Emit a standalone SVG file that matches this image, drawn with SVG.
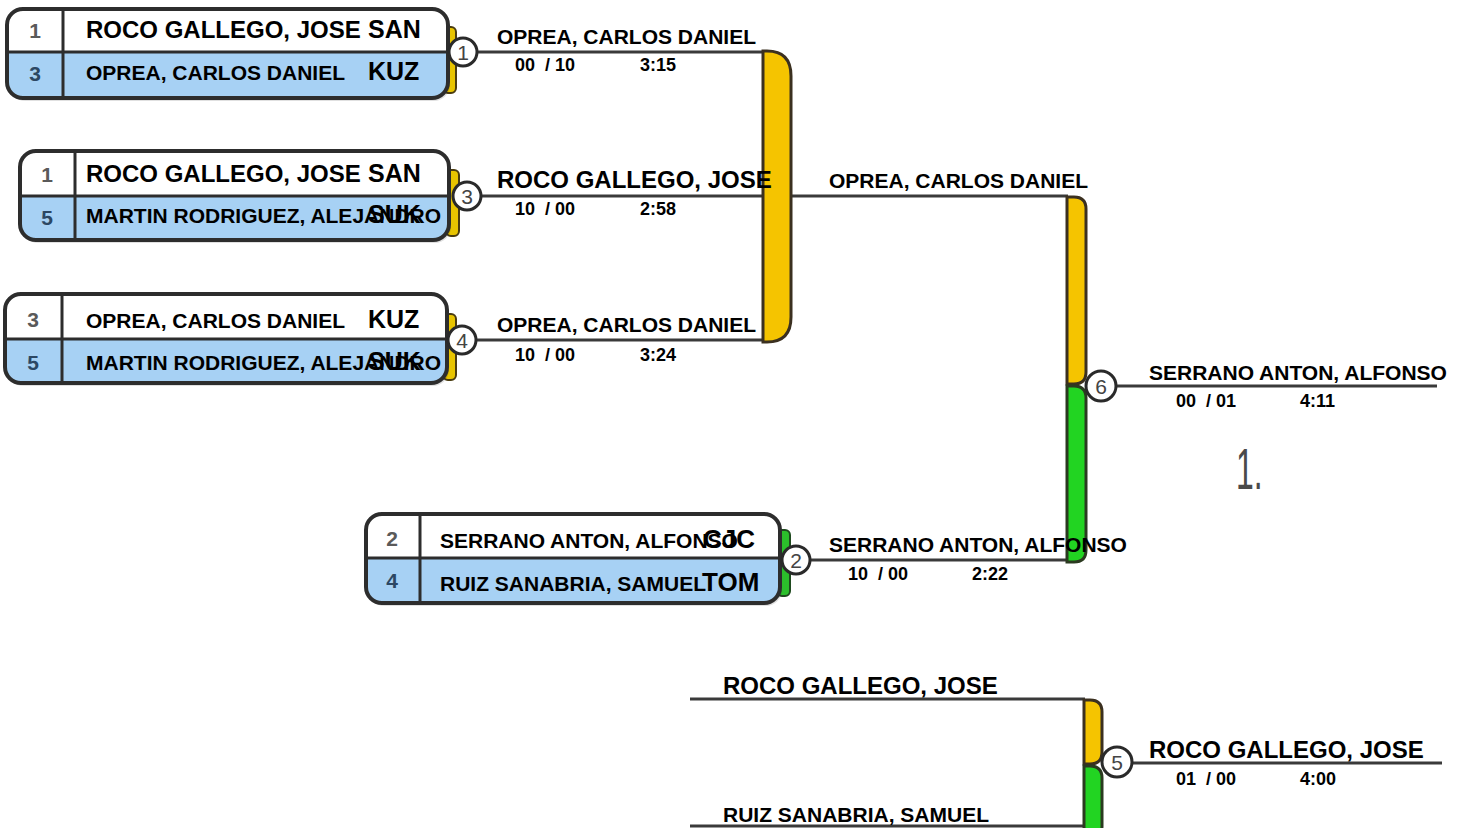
<svg xmlns="http://www.w3.org/2000/svg" width="1466" height="828" viewBox="0 0 1466 828">
<defs>
<style>
.t{font-family:"Liberation Sans",Arial,sans-serif;font-weight:bold;fill:#000}
.n21{font-size:21px}
.n24{font-size:24px}
.code{font-size:25px}
.code26{font-size:26px}
.sc{font-size:18px;white-space:pre}
.seed{font-family:"Liberation Sans",sans-serif;font-weight:bold;font-size:21px;text-anchor:middle}
.seedw{fill:#5a5a5a}
.seedb{fill:#2c4763}
.box{fill:none;stroke:#2d2d2d;stroke-width:4}
.div{stroke:#2d2d2d;stroke-width:3}
.blue{fill:#a7d1f4}
.white{fill:#fff}
.line{stroke:#3a3a3a;stroke-width:3;fill:none}
.circ{fill:#fff;stroke:#2a2a2a;stroke-width:3}
.cn{font-family:"Liberation Sans",sans-serif;font-size:21px;fill:#444;text-anchor:middle}
.yel{fill:#f5c400;stroke:#3b3020;stroke-width:3}
.grn{fill:#22d422;stroke:#2b3a20;stroke-width:3}
.tabY{fill:#e8c400;stroke:#4a3c10;stroke-width:2}
.tabG{fill:#2bbf2b;stroke:#1f4a1f;stroke-width:2}
.shadow{fill:#000;opacity:0.12}
.place{font-family:"Liberation Sans",sans-serif;font-size:58px;fill:#4a4a4a}
</style>
</defs>
<rect width="1466" height="828" fill="#fff"/>

<g id="connectors">
<line class="line" x1="477" y1="52" x2="764" y2="52"/>
<line class="line" x1="481" y1="196" x2="764" y2="196"/>
<line class="line" x1="476" y1="340" x2="764" y2="340"/>
<line class="line" x1="791" y1="196" x2="1068" y2="196"/>
<line class="line" x1="810" y1="560" x2="1068" y2="560"/>
<line class="line" x1="1115" y1="386" x2="1437" y2="386"/>
<line class="line" x1="690" y1="699" x2="1085" y2="699"/>
<line class="line" x1="690" y1="826" x2="1085" y2="826"/>
<line class="line" x1="1131" y1="763" x2="1442" y2="763"/>
</g>

<g id="box-m1">
<rect x="443" y="27" width="13" height="66" rx="5" class="tabY"/>
<rect x="9" y="12" width="441" height="89" rx="16" class="shadow"/>
<rect x="7" y="9" width="441" height="89" rx="16" class="white"/>
<path class="blue" d="M7,52 H448 V82 Q448,98 432,98 H23 Q7,98 7,82 Z"/>
<line class="div" x1="7" y1="52" x2="448" y2="52"/>
<line class="div" x1="63" y1="9" x2="63" y2="98"/>
<rect x="7" y="9" width="441" height="89" rx="16" class="box"/>
<text class="seed seedw" x="35" y="38">1</text>
<text class="seed seedb" x="35" y="81">3</text>
<text class="t n24" x="86" y="38">ROCO GALLEGO, JOSE</text>
<text class="t code" x="368" y="38">SAN</text>
<text class="t n21" x="86" y="80">OPREA, CARLOS DANIEL</text>
<text class="t code" x="368" y="80">KUZ</text>
</g>

<g id="box-m3">
<rect x="446" y="170" width="13" height="66" rx="5" class="tabY"/>
<rect x="22" y="154" width="429" height="89" rx="16" class="shadow"/>
<rect x="20" y="151" width="429" height="89" rx="16" class="white"/>
<path class="blue" d="M20,196 H449 V224 Q449,240 433,240 H36 Q20,240 20,224 Z"/>
<line class="div" x1="20" y1="196" x2="449" y2="196"/>
<line class="div" x1="75" y1="151" x2="75" y2="240"/>
<rect x="20" y="151" width="429" height="89" rx="16" class="box"/>
<text class="seed seedw" x="47" y="182">1</text>
<text class="seed seedb" x="47" y="225">5</text>
<text class="t n24" x="86" y="182">ROCO GALLEGO, JOSE</text>
<text class="t code" x="368" y="182">SAN</text>
<text class="t n21" x="86" y="223">MARTIN RODRIGUEZ, ALEJANDRO</text>
<text class="t code" x="368" y="223">SUK</text>
</g>

<g id="box-m4">
<rect x="443" y="314" width="13" height="66" rx="5" class="tabY"/>
<rect x="7" y="297" width="442" height="89" rx="16" class="shadow"/>
<rect x="5" y="294" width="442" height="89" rx="16" class="white"/>
<path class="blue" d="M5,339 H447 V367 Q447,383 431,383 H21 Q5,383 5,367 Z"/>
<line class="div" x1="5" y1="339" x2="447" y2="339"/>
<line class="div" x1="62" y1="294" x2="62" y2="383"/>
<rect x="5" y="294" width="442" height="89" rx="16" class="box"/>
<text class="seed seedw" x="33" y="327">3</text>
<text class="seed seedb" x="33" y="370">5</text>
<text class="t n21" x="86" y="328">OPREA, CARLOS DANIEL</text>
<text class="t code" x="368" y="328">KUZ</text>
<text class="t n21" x="86" y="370">MARTIN RODRIGUEZ, ALEJANDRO</text>
<text class="t code" x="368" y="370">SUK</text>
</g>

<g id="box-m2">
<rect x="777" y="530" width="13" height="66" rx="5" class="tabG"/>
<rect x="368" y="517" width="414" height="89" rx="16" class="shadow"/>
<rect x="366" y="514" width="414" height="89" rx="16" class="white"/>
<path class="blue" d="M366,558 H780 V587 Q780,603 764,603 H382 Q366,603 366,587 Z"/>
<line class="div" x1="366" y1="558" x2="780" y2="558"/>
<line class="div" x1="420" y1="514" x2="420" y2="603"/>
<rect x="366" y="514" width="414" height="89" rx="16" class="box"/>
<text class="seed seedw" x="392" y="546">2</text>
<text class="seed seedb" x="392" y="588">4</text>
<text class="t n21" x="440" y="548">SERRANO ANTON, ALFONSO</text>
<text class="t code26" x="703" y="548">CJC</text>
<text class="t n21" x="440" y="591">RUIZ SANABRIA, SAMUEL</text>
<text class="t code26" x="702" y="591">TOM</text>
</g>

<g id="bracket-a">
<path class="yel" d="M763,51 H767 Q791,51 791,76 V317 Q791,342 767,342 H763 Z"/>
</g>
<g id="bracket-6">
<path class="yel" d="M1067,197 H1074 Q1086,197 1086,209 V372 Q1086,384 1074,384 H1067 Z"/>
<path class="grn" d="M1067,386 H1074 Q1086,386 1086,398 V550 Q1086,562 1074,562 H1067 Z"/>
</g>
<g id="bracket-5">
<path class="yel" d="M1084,700 H1090 Q1102,700 1102,712 V752 Q1102,764 1090,764 H1084 Z"/>
<path class="grn" d="M1084,766 H1090 Q1102,766 1102,778 V826 Q1102,838 1090,838 H1084 Z"/>
</g>

<g id="match-1">
<circle class="circ" cx="463" cy="52" r="14"/>
<text class="cn" x="463" y="60">1</text>
<text class="t n21" x="497" y="44">OPREA, CARLOS DANIEL</text>
<text class="t sc" x="515" y="71" xml:space="preserve">00  / 10</text>
<text class="t sc" x="640" y="71">3:15</text>
</g>
<g id="match-3">
<circle class="circ" cx="467" cy="196" r="14"/>
<text class="cn" x="467" y="204">3</text>
<text class="t n24" x="497" y="188">ROCO GALLEGO, JOSE</text>
<text class="t sc" x="515" y="215" xml:space="preserve">10  / 00</text>
<text class="t sc" x="640" y="215">2:58</text>
</g>
<g id="match-4">
<circle class="circ" cx="462" cy="340" r="14"/>
<text class="cn" x="462" y="348">4</text>
<text class="t n21" x="497" y="332">OPREA, CARLOS DANIEL</text>
<text class="t sc" x="515" y="361" xml:space="preserve">10  / 00</text>
<text class="t sc" x="640" y="361">3:24</text>
</g>
<g id="semi-a">
<text class="t n21" x="829" y="188">OPREA, CARLOS DANIEL</text>
</g>
<g id="match-2">
<circle class="circ" cx="796" cy="560" r="14"/>
<text class="cn" x="796" y="568">2</text>
<text class="t n21" x="829" y="552">SERRANO ANTON, ALFONSO</text>
<text class="t sc" x="848" y="580" xml:space="preserve">10  / 00</text>
<text class="t sc" x="972" y="580">2:22</text>
</g>
<g id="match-6">
<circle class="circ" cx="1101" cy="386" r="15"/>
<text class="cn" x="1101" y="394">6</text>
<text class="t n21" x="1149" y="380">SERRANO ANTON, ALFONSO</text>
<text class="t sc" x="1176" y="407" xml:space="preserve">00  / 01</text>
<text class="t sc" x="1300" y="407">4:11</text>
<text class="place" transform="translate(1236,489) scale(0.55,1)">1.</text>
</g>
<g id="match-5">
<text class="t n24" x="723" y="694">ROCO GALLEGO, JOSE</text>
<text class="t n21" x="723" y="822">RUIZ SANABRIA, SAMUEL</text>
<circle class="circ" cx="1117" cy="762" r="15"/>
<text class="cn" x="1117" y="770">5</text>
<text class="t n24" x="1149" y="758">ROCO GALLEGO, JOSE</text>
<text class="t sc" x="1176" y="785" xml:space="preserve">01  / 00</text>
<text class="t sc" x="1300" y="785">4:00</text>
</g>
</svg>
